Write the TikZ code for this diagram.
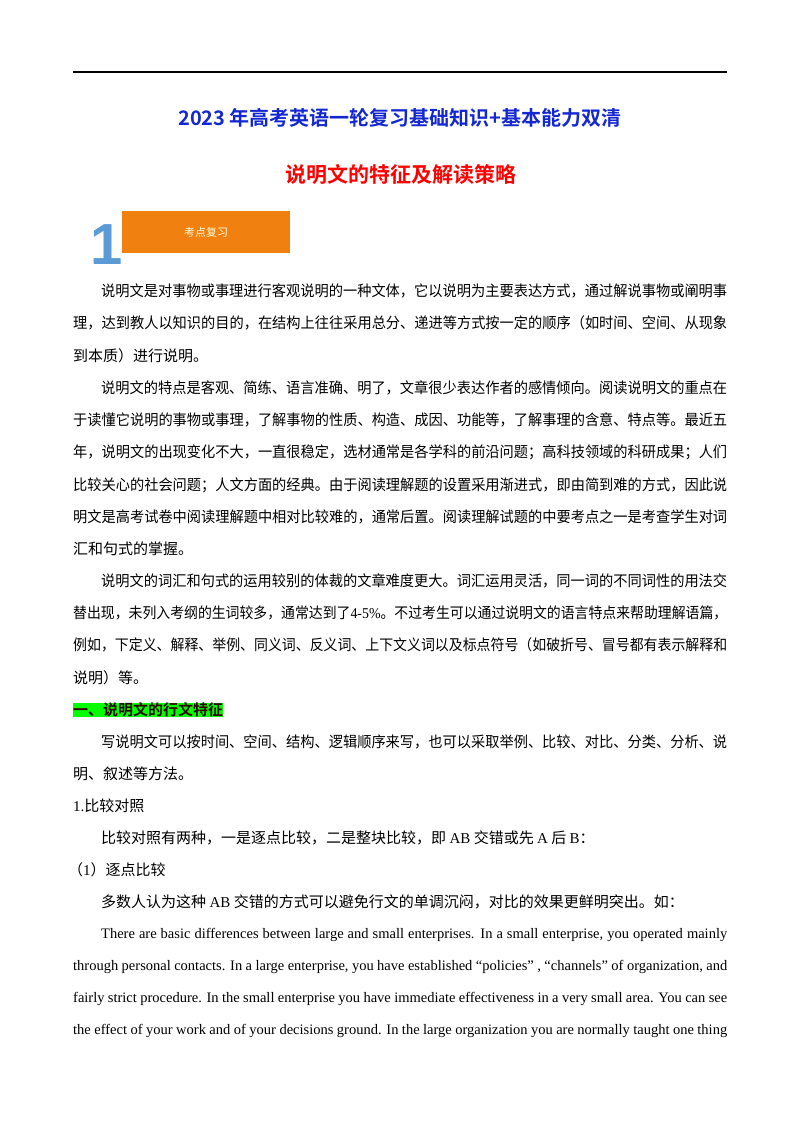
\documentclass[tikz,border=0pt]{standalone}
\usepackage{graphicx}
\usepackage{fontspec}
\setmainfont{Liberation Serif}
\newfontfamily\cjk{Noto Sans CJK SC}[BoldFont={Noto Sans CJK SC Bold}]
\newfontfamily\en{Liberation Serif}
\newfontfamily\sans{Liberation Sans}
\hbadness=10000 \hfuzz=50pt
\definecolor{tblue}{RGB}{20,40,210}
\definecolor{orng}{RGB}{240,128,16}
\definecolor{lblue}{RGB}{91,155,213}
\definecolor{hgreen}{RGB}{0,255,0}
\newcommand\TJ[3]{\node[anchor=west,inner sep=0pt] at (#1,#2) {\resizebox{\dimexpr727pt-#1pt\relax}{\height}{\fontsize{15}{18}\cjk #3}};}
\newcommand\TS[3]{\node[anchor=west,inner sep=0pt] at (#1,#2) {\fontsize{15}{18}\cjk #3};}
\newcommand\EJ[3]{\node[anchor=west,inner sep=0pt] at (#1,#2) {\parbox{\dimexpr727pt-#1pt\relax}{\fontsize{14.5}{17}\en\parfillskip=0pt\relax #3\par}};}
\begin{document}
\begin{tikzpicture}[x=1pt,y=-1pt]
\useasboundingbox (0,0) rectangle (800,1132);
\draw[line width=1.5pt] (73,72) -- (727,72);
\node[text=tblue,font=\fontsize{20}{24}\cjk\bfseries] (title) at (400,118) {2023 年高考英语一轮复习基础知识+基本能力双清};
\node[text=red,font=\fontsize{21}{24}\cjk\bfseries] (sub) at (401,174) {说明文的特征及解读策略};
\node[fill=orng,minimum width=168pt,minimum height=42pt,inner sep=0pt,text=white!85!yellow,font=\fontsize{11}{13}\cjk] (box) at (206,232) {考点复习};
\node[text=lblue,font=\fontsize{58}{60}\sans\bfseries,inner sep=0pt] (one) at (107,245) {1};
\TJ{101}{291}{说明文是对事物或事理进行客观说明的一种文体，它以说明为主要表达方式，通过解说事物或阐明事}
\TJ{73}{323}{理，达到教人以知识的目的，在结构上往往采用总分、递进等方式按一定的顺序（如时间、空间、从现象}
\TS{73}{356}{到本质）进行说明。}
\TJ{101}{388}{说明文的特点是客观、简练、语言准确、明了，文章很少表达作者的感情倾向。阅读说明文的重点在}
\TJ{73}{420}{于读懂它说明的事物或事理，了解事物的性质、构造、成因、功能等，了解事理的含意、特点等。最近五}
\TJ{73}{452}{年，说明文的出现变化不大，一直很稳定，选材通常是各学科的前沿问题；高科技领域的科研成果；人们}
\TJ{73}{485}{比较关心的社会问题；人文方面的经典。由于阅读理解题的设置采用渐进式，即由简到难的方式，因此说}
\TJ{73}{517}{明文是高考试卷中阅读理解题中相对比较难的，通常后置。阅读理解试题的中要考点之一是考查学生对词}
\TS{73}{549}{汇和句式的掌握。}
\TJ{101}{581}{说明文的词汇和句式的运用较别的体裁的文章难度更大。词汇运用灵活，同一词的不同词性的用法交}
\TJ{73}{613}{替出现，未列入考纲的生词较多，通常达到了{\en 4-5\%}。不过考生可以通过说明文的语言特点来帮助理解语篇，}
\TJ{73}{645}{例如，下定义、解释、举例、同义词、反义词、上下文义词以及标点符号（如破折号、冒号都有表示解释和}
\TS{73}{678}{说明）等。}
\node[anchor=west,inner sep=0pt,fill=hgreen,text=black!80!red,font=\fontsize{15}{18}\cjk\bfseries] (h1) at (73,710) {一、说明文的行文特征};
\TJ{101}{742}{写说明文可以按时间、空间、结构、逻辑顺序来写，也可以采取举例、比较、对比、分类、分析、说}
\TS{73}{774}{明、叙述等方法。}
\TS{73}{806}{{\en 1.}比较对照}
\TS{101}{838}{比较对照有两种，一是逐点比较，二是整块比较，即 {\en AB} 交错或先 {\en A} 后 {\en B}：}
\TS{68}{870}{（{\en 1}）逐点比较}
\TS{101}{902}{多数人认为这种 {\en AB} 交错的方式可以避免行文的单调沉闷，对比的效果更鲜明突出。如：}
\EJ{101}{935}{There are basic differences between large and small enterprises. In a small enterprise, you operated mainly}
\EJ{73}{967}{through personal contacts. In a large enterprise, you have established “policies” , “channels” of organization, and}
\EJ{73}{999}{fairly strict procedure. In the small enterprise you have immediate effectiveness in a very small area. You can see}
\EJ{73}{1031}{the effect of your work and of your decisions ground. In the large organization you are normally taught one thing}
\end{tikzpicture}
\end{document}
